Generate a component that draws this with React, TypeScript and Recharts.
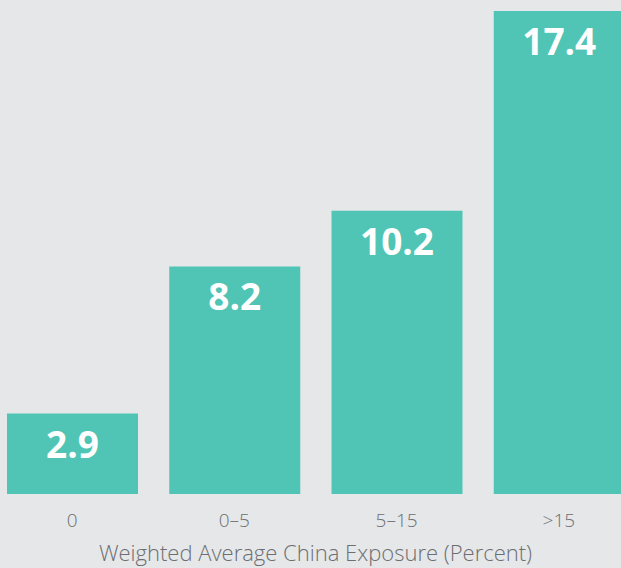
import { BarChart, Bar, XAxis, YAxis, LabelList } from "recharts";

const categories = ["0", "0–5", "5–15", ">15"];
const values = [2.9, 8.2, 10.2, 17.4];
const axisTitle = "Weighted Average China Exposure (Percent)";

const data = categories.map((c, i) => ({ name: c, value: values[i] }));

const BG = "#e6e7e9";
const TEAL = "#50c5b5";
const GREY = "#6d6e71";
const FONT = "'Open Sans', sans-serif";

function ValueLabel(props: any) {
  const { x, y, width, value } = props;
  return (
    <text
      x={x + width / 2}
      y={y + 44}
      textAnchor="middle"
      fill="#ffffff"
      fontFamily={FONT}
      fontWeight={700}
      fontSize={37}
    >
      {Number(value).toFixed(1)}
    </text>
  );
}

function Tick(props: any) {
  const { x, payload } = props;
  return (
    <text x={x} y={527} textAnchor="middle" fill={GREY} fontFamily={FONT} fontSize={19} fontWeight={300}>
      {payload.value}
    </text>
  );
}

export default function App() {
  return (
    <div
      style={{
        position: "absolute",
        left: 0,
        top: 0,
        width: 621,
        height: 568,
        background: BG,
        overflow: "hidden",
      }}
    >
      <div style={{ position: "absolute", left: -9, top: 0 }}>
        <BarChart width={649} height={568} data={data} margin={{ top: 11, right: 0, bottom: 0, left: 0 }}>
          <XAxis
            dataKey="name"
            axisLine={false}
            tickLine={false}
            height={74}
            tick={<Tick />}
            interval={0}
          />
          <YAxis hide domain={[0, 17.4]} />
          <Bar dataKey="value" fill={TEAL} barSize={131} isAnimationActive={false}>
            <LabelList dataKey="value" content={<ValueLabel />} />
          </Bar>
        </BarChart>
      </div>
      <div
        style={{
          position: "absolute",
          left: 0,
          width: 621,
          top: 537,
          textAlign: "center",
          fontFamily: FONT,
          fontSize: 22,
          fontWeight: 300,
          color: GREY,
          lineHeight: "30px",
          whiteSpace: "nowrap",
        }}
      >
        <span style={{ position: "relative", left: 5 }}>{axisTitle}</span>
      </div>
    </div>
  );
}
